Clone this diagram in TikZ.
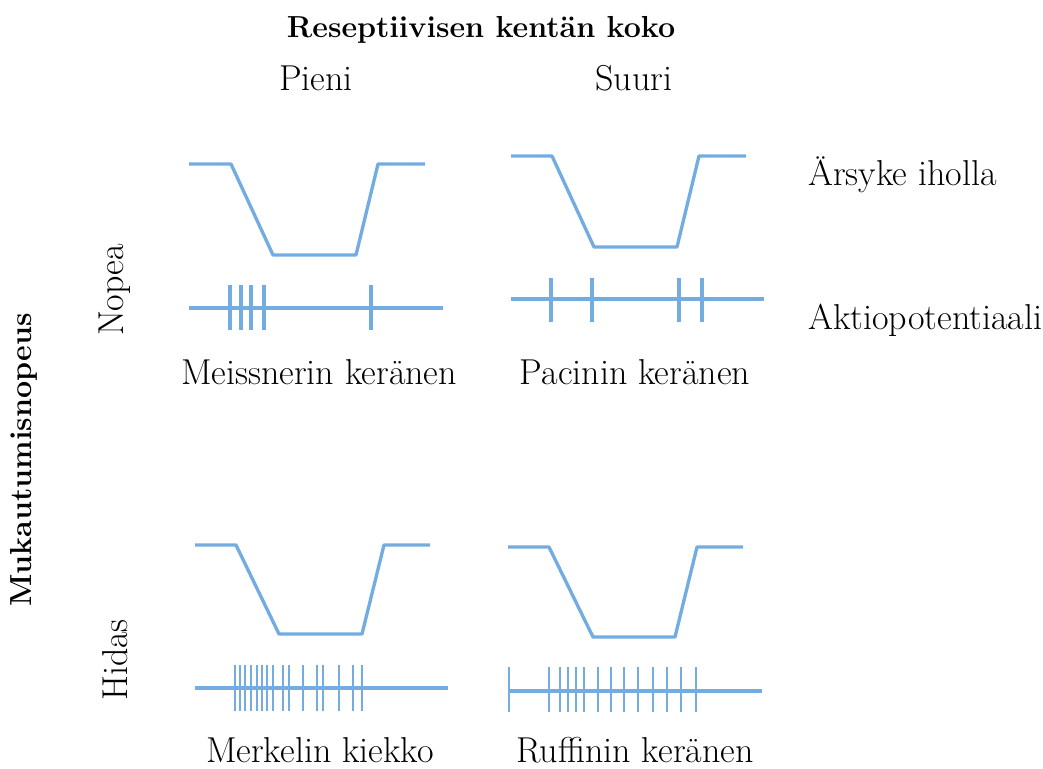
\documentclass[tikz,border=0pt]{standalone}
\definecolor{sig}{RGB}{115,172,224}
\tikzset{
  lbl/.style={font=\fontsize{27}{32}\selectfont, inner sep=0pt},
  hdr/.style={font=\fontsize{22.8}{27}\selectfont\bfseries, inner sep=0pt},
  wave/.style={draw=sig, line width=2.5pt, line join=round},
  spk/.style={draw=sig, line width=2.5pt}
}
\begin{document}
\begin{tikzpicture}[x=0.75pt,y=-0.75pt]
\useasboundingbox (0,0) rectangle (1043,768);
% headers
\node[hdr] (title) at (481,30) {Reseptiivisen kentän koko};
\node[lbl] (pieni) at (316,78) {Pieni};
\node[lbl] (suuri) at (634,78) {Suuri};
\node[lbl, anchor=west] (arsyke) at (808,175) {Ärsyke iholla};
\node[lbl, anchor=west] (aktio) at (808,320) {Aktiopotentiaali};
\node[hdr, rotate=90] (muk) at (24,460) {Mukautumisnopeus};
\node[lbl, rotate=90] (nopea) at (115,290) {Nopea};
\node[lbl, rotate=90] (hidas) at (115,660) {Hidas};
\node[lbl] (meiss) at (319,372) {Meissnerin keränen};
\node[lbl] (pac) at (635,372) {Pacinin keränen};
\node[lbl, anchor=base] (merk) at (320,762) {Merkelin kiekko};
\node[lbl, anchor=base] (ruff) at (635,762) {Ruffinin keränen};
% stimulus waveforms
\draw[wave] (189,164) -- (231,164) -- (273,255) -- (356,255) -- (378,164) -- (425,164);
\draw[wave] (511,156) -- (552,156) -- (594,247) -- (677,247) -- (699,156) -- (746,156);
\draw[wave] (195,545) -- (236,545) -- (279,634) -- (362,634) -- (384,545) -- (430,545);
\draw[wave] (508,547) -- (549,547) -- (593,637) -- (675,637) -- (697,547) -- (743,547);
% spike trains
\draw[spk] (189,308) -- (443,308);
\foreach \x in {230,241,251,264,371} \draw[spk] (\x,285) -- (\x,330);
\draw[spk] (511,299) -- (764,299);
\foreach \x in {551,592,679,702} \draw[spk] (\x,278) -- (\x,322);
\draw[spk] (195,688) -- (448,688);
\foreach \x in {235,240,245,251,257,262,267,273,283,289,303,317,323,339,353,362} \draw[spk, line width=2pt] (\x,665) -- (\x,711);
\draw[spk] (509,691) -- (762,691);
\foreach \x in {509,549,560,568,576,584,598,611,624,638,653,667,681,696} \draw[spk, line width=2.2pt] (\x,667) -- (\x,712);
\end{tikzpicture}
\end{document}
